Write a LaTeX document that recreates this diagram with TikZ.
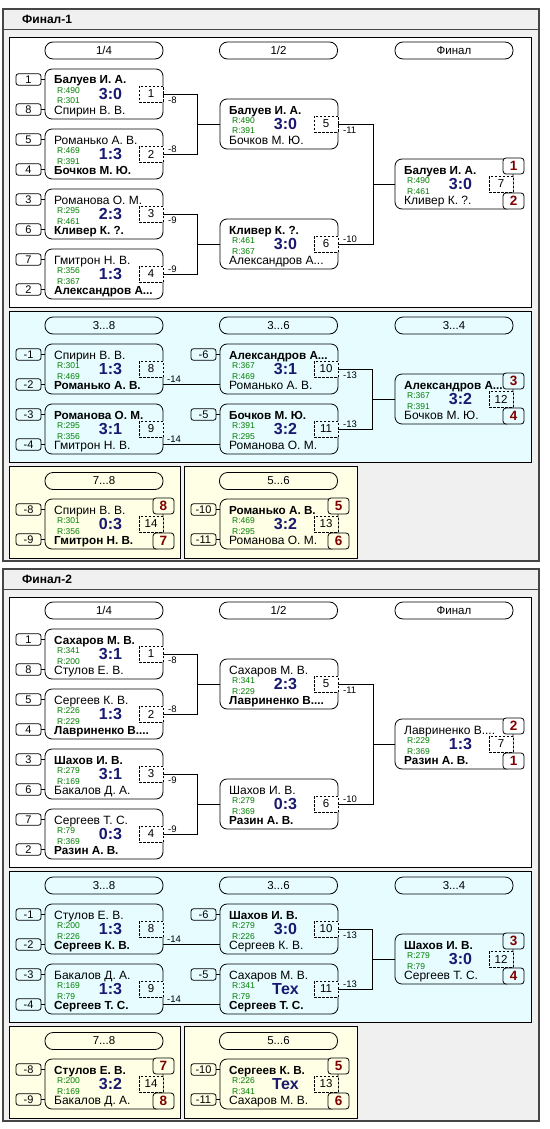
\documentclass[tikz,border=0pt]{standalone}
\usepackage{fontspec}
\setmainfont{Liberation Sans}
\usetikzlibrary{calc}
\definecolor{scorec}{RGB}{25,25,112}
\definecolor{ratec}{RGB}{0,128,0}
\definecolor{winc}{RGB}{128,0,0}
\definecolor{grayb}{RGB}{240,240,240}
\definecolor{cyanb}{RGB}{230,252,255}
\definecolor{yelb}{RGB}{255,255,230}
\definecolor{framec}{RGB}{70,70,70}
\newcommand\fnm{\fontsize{12}{14}\selectfont}
\newcommand\fbn{\fontsize{11.7}{14}\selectfont\bfseries}
\newcommand\B[1]{{\fbn #1}}
\newif\ifcov \covtrue
\def\bgc{white}
\tikzset{
 lw/.style={line width=0.8pt},
 mbox/.style={draw, lw, rounded corners=7pt, minimum width=118pt, minimum height=50pt, inner sep=0pt, outer sep=0pt, anchor=north west},
 nametxt/.style={anchor=base west, inner sep=0pt, font=\fnm},
 rtxt/.style={anchor=base west, inner sep=0pt, font=\fontsize{8.5}{10}\selectfont, text=ratec},
 scoretxt/.style={anchor=base, inner sep=0pt, font=\fontsize{16}{18}\selectfont\bfseries, text=scorec},
 numbox/.style={draw, lw, dash pattern=on 2.5pt off 1.5pt, fill=\bgc, minimum width=24pt, minimum height=16pt, inner sep=0pt, font=\fontsize{11.5}{13}\selectfont},
 seedbox/.style={draw, lw, rounded corners=2.5pt, minimum width=25pt, minimum height=11.5pt, inner sep=0pt, font=\fontsize{11}{13}\selectfont},
 pill/.style={draw, lw, rounded corners=8pt, minimum width=118pt, minimum height=17pt, inner sep=0pt, font=\fontsize{11.5}{13}\selectfont},
 winbox/.style={draw, lw, fill=\bgc, rounded corners=3pt, minimum width=21pt, minimum height=16pt, inner sep=0pt, font=\fontsize{13.5}{15}\selectfont\bfseries, text=winc},
 lbl/.style={anchor=base west, inner sep=0pt, font=\fontsize{9.5}{11}\selectfont},
 conn/.style={lw},
 panel/.style={draw, lw},
}
\newcommand\Match[9]{%
 \node[mbox] (#1) at (#2,#3) {};
 \ifcov\fill[fill=\bgc] (#2+117,#3+17.4) rectangle (#2+119,#3+32.6);\fi
 \node[nametxt] (#1nt) at (#2+9,#3+15) {#4};
 \node[rtxt] (#1ra) at (#2+12,#3+24.5) {R:#5};
 \node[rtxt] (#1rb) at (#2+12,#3+35) {R:#6};
 \node[scoretxt] (#1sc) at (#2+65.5,#3+30.5) {#7};
 \node[nametxt] (#1nb) at (#2+9,#3+45) {#8};
 \node[numbox] (#1num) at (#2+106,#3+25) {#9};
}
\newcommand\Seed[5]{\node[seedbox] (#1) at (#2,#3) {#4}; \draw[conn] (#1.east) -- (#1.east -| #5.west);}
\newcommand\Wins[3]{%
 \node[winbox] (#1wa) at ($(#1.north east)+(0.5,7)$) {#2};
 \node[winbox] (#1wb) at ($(#1.south east)+(0.5,-8)$) {#3};}
\newcommand\Lbl[4]{\node[lbl] (#1) at ($(#2.east)+(5,#3)$) {#4};}
\newcommand\Frame[3]{%
 \draw[framec, line width=1.2pt, fill=grayb] (3,#1+9) rectangle (539,#1+561);
 \draw[framec, line width=0.8pt] (3,#1+29) -- (539,#1+29);
 \node[anchor=base west, inner sep=0pt, font=\fontsize{12}{14}\selectfont\bfseries] (#3) at (22,#1+23.5) {#2};
 \draw[panel, fill=white] (9,#1+37) rectangle (531,#1+307);
 \draw[panel, fill=cyanb] (9,#1+311) rectangle (531,#1+462);
 \draw[panel, fill=yelb] (9,#1+466) rectangle (180,#1+558);
 \draw[panel, fill=yelb] (184,#1+466) rectangle (357,#1+558);
}
\begin{document}
\begin{tikzpicture}[x=1pt,y=-1pt]
\useasboundingbox (0,0) rectangle (549,1129);
% ================= Final-1
\def\Y{0}
\Frame{\Y}{Финал-1}{aT}
\def\bgc{white}
\node[pill] (aP1) at (104,\Y+50.5) {1/4};
\node[pill] (aP2) at (278.5,\Y+50.5) {1/2};
\node[pill] (aP3) at (454,\Y+50.5) {Финал};
\Match{a1}{45}{\Y+69}{\B{Балуев И. А.}}{490}{301}{3:0}{Спирин В. В.}{1}
\Match{a2}{45}{\Y+129}{Романько А. В.}{469}{391}{1:3}{\B{Бочков М. Ю.}}{2}
\Match{a3}{45}{\Y+189}{Романова О. М.}{295}{461}{2:3}{\B{Кливер К. ?.}}{3}
\Match{a4}{45}{\Y+249}{Гмитрон Н. В.}{356}{367}{1:3}{\B{Александров А...}}{4}
\Match{a5}{220}{\Y+99}{\B{Балуев И. А.}}{490}{391}{3:0}{Бочков М. Ю.}{5}
\Match{a6}{220}{\Y+219}{\B{Кливер К. ?.}}{461}{367}{3:0}{Александров А...}{6}
\covfalse
\Match{a7}{395}{\Y+159}{\B{Балуев И. А.}}{490}{461}{3:0}{Кливер К. ?.}{7}
\Wins{a7}{1}{2}
\covtrue
\Seed{a1s1}{28.5}{\Y+79.5}{1}{a1}\Seed{a1s2}{28.5}{\Y+109.5}{8}{a1}
\Seed{a2s1}{28.5}{\Y+139.5}{5}{a2}\Seed{a2s2}{28.5}{\Y+169.5}{4}{a2}
\Seed{a3s1}{28.5}{\Y+199.5}{3}{a3}\Seed{a3s2}{28.5}{\Y+229.5}{6}{a3}
\Seed{a4s1}{28.5}{\Y+259.5}{7}{a4}\Seed{a4s2}{28.5}{\Y+289.5}{2}{a4}
\draw[conn] (a1.east) -- ++(34,0) |- (a5.west);
\draw[conn] (a2.east) -- ++(34,0) |- (a5.west);
\draw[conn] (a3.east) -- ++(34,0) |- (a6.west);
\draw[conn] (a4.east) -- ++(34,0) |- (a6.west);
\draw[conn] (a5.east) -- ++(35,0) |- (a7.west);
\draw[conn] (a6.east) -- ++(35,0) |- (a7.west);
\Lbl{a1l}{a1}{9.5}{-8}\Lbl{a2l}{a2}{-2}{-8}\Lbl{a3l}{a3}{9.5}{-9}\Lbl{a4l}{a4}{-2}{-9}
\Lbl{a5l}{a5}{9.5}{-11}\Lbl{a6l}{a6}{-2}{-10}
% 3..8
\def\bgc{cyanb}
\node[pill] (aP4) at (104,\Y+325.5) {3...8};
\node[pill] (aP5) at (278.5,\Y+325.5) {3...6};
\node[pill] (aP6) at (454,\Y+325.5) {3...4};
\Match{a8}{45}{\Y+344}{Спирин В. В.}{301}{469}{1:3}{\B{Романько А. В.}}{8}
\Match{a9}{45}{\Y+404}{\B{Романова О. М.}}{295}{356}{3:1}{Гмитрон Н. В.}{9}
\Match{a10}{220}{\Y+344}{\B{Александров А...}}{367}{469}{3:1}{Романько А. В.}{10}
\Match{a11}{220}{\Y+404}{\B{Бочков М. Ю.}}{391}{295}{3:2}{Романова О. М.}{11}
\covfalse
\Match{a12}{395}{\Y+374}{\B{Александров А...}}{367}{391}{3:2}{Бочков М. Ю.}{12}
\Wins{a12}{3}{4}
\covtrue
\Seed{a8s1}{28.5}{\Y+354.5}{-1}{a8}\Seed{a8s2}{28.5}{\Y+384.5}{-2}{a8}
\Seed{a9s1}{28.5}{\Y+414.5}{-3}{a9}\Seed{a9s2}{28.5}{\Y+444.5}{-4}{a9}
\Seed{a10s1}{203.5}{\Y+354.5}{-6}{a10}
\Seed{a11s1}{203.5}{\Y+414.5}{-5}{a11}
\draw[conn] ($(a8.north east)+(0,40)$) -- ($(a10.north west)+(0,40)$);
\draw[conn] ($(a9.north east)+(0,40)$) -- ($(a11.north west)+(0,40)$);
\node[lbl] (a8l) at ($(a8.north east)+(4,38)$) {-14};
\node[lbl] (a9l) at ($(a9.north east)+(4,38)$) {-14};
\draw[conn] (a10.east) -- ++(34,0) |- (a12.west);
\draw[conn] (a11.east) -- ++(34,0) |- (a12.west);
\Lbl{a10l}{a10}{9.5}{-13}\Lbl{a11l}{a11}{-2}{-13}
% 7..8 / 5..6
\def\bgc{yelb}
\node[pill] (aP7) at (104,\Y+481) {7...8};
\node[pill] (aP8) at (278.5,\Y+481) {5...6};
\covfalse
\Match{a14}{45}{\Y+499}{Спирин В. В.}{301}{356}{0:3}{\B{Гмитрон Н. В.}}{14}
\Wins{a14}{8}{7}
\Match{a13}{220}{\Y+499}{\B{Романько А. В.}}{469}{295}{3:2}{Романова О. М.}{13}
\Wins{a13}{5}{6}
\covtrue
\Seed{a14s1}{28.5}{\Y+509.5}{-8}{a14}\Seed{a14s2}{28.5}{\Y+539.5}{-9}{a14}
\Seed{a13s1}{203.5}{\Y+509.5}{-10}{a13}\Seed{a13s2}{203.5}{\Y+539.5}{-11}{a13}
% ================= Final-2
\def\Y{560}
\Frame{\Y}{Финал-2}{bT}
\def\bgc{white}
\node[pill] (bP1) at (104,\Y+50.5) {1/4};
\node[pill] (bP2) at (278.5,\Y+50.5) {1/2};
\node[pill] (bP3) at (454,\Y+50.5) {Финал};
\Match{b1}{45}{\Y+69}{\B{Сахаров М. В.}}{341}{200}{3:1}{Стулов Е. В.}{1}
\Match{b2}{45}{\Y+129}{Сергеев К. В.}{226}{229}{1:3}{\B{Лавриненко В....}}{2}
\Match{b3}{45}{\Y+189}{\B{Шахов И. В.}}{279}{169}{3:1}{Бакалов Д. А.}{3}
\Match{b4}{45}{\Y+249}{Сергеев Т. С.}{79}{369}{0:3}{\B{Разин А. В.}}{4}
\Match{b5}{220}{\Y+99}{Сахаров М. В.}{341}{229}{2:3}{\B{Лавриненко В....}}{5}
\Match{b6}{220}{\Y+219}{Шахов И. В.}{279}{369}{0:3}{\B{Разин А. В.}}{6}
\covfalse
\Match{b7}{395}{\Y+159}{Лавриненко В....}{229}{369}{1:3}{\B{Разин А. В.}}{7}
\Wins{b7}{2}{1}
\covtrue
\Seed{b1s1}{28.5}{\Y+79.5}{1}{b1}\Seed{b1s2}{28.5}{\Y+109.5}{8}{b1}
\Seed{b2s1}{28.5}{\Y+139.5}{5}{b2}\Seed{b2s2}{28.5}{\Y+169.5}{4}{b2}
\Seed{b3s1}{28.5}{\Y+199.5}{3}{b3}\Seed{b3s2}{28.5}{\Y+229.5}{6}{b3}
\Seed{b4s1}{28.5}{\Y+259.5}{7}{b4}\Seed{b4s2}{28.5}{\Y+289.5}{2}{b4}
\draw[conn] (b1.east) -- ++(34,0) |- (b5.west);
\draw[conn] (b2.east) -- ++(34,0) |- (b5.west);
\draw[conn] (b3.east) -- ++(34,0) |- (b6.west);
\draw[conn] (b4.east) -- ++(34,0) |- (b6.west);
\draw[conn] (b5.east) -- ++(35,0) |- (b7.west);
\draw[conn] (b6.east) -- ++(35,0) |- (b7.west);
\Lbl{b1l}{b1}{9.5}{-8}\Lbl{b2l}{b2}{-2}{-8}\Lbl{b3l}{b3}{9.5}{-9}\Lbl{b4l}{b4}{-2}{-9}
\Lbl{b5l}{b5}{9.5}{-11}\Lbl{b6l}{b6}{-2}{-10}
\def\bgc{cyanb}
\node[pill] (bP4) at (104,\Y+325.5) {3...8};
\node[pill] (bP5) at (278.5,\Y+325.5) {3...6};
\node[pill] (bP6) at (454,\Y+325.5) {3...4};
\Match{b8}{45}{\Y+344}{Стулов Е. В.}{200}{226}{1:3}{\B{Сергеев К. В.}}{8}
\Match{b9}{45}{\Y+404}{Бакалов Д. А.}{169}{79}{1:3}{\B{Сергеев Т. С.}}{9}
\Match{b10}{220}{\Y+344}{\B{Шахов И. В.}}{279}{226}{3:0}{Сергеев К. В.}{10}
\Match{b11}{220}{\Y+404}{Сахаров М. В.}{341}{79}{Тех}{\B{Сергеев Т. С.}}{11}
\covfalse
\Match{b12}{395}{\Y+374}{\B{Шахов И. В.}}{279}{79}{3:0}{Сергеев Т. С.}{12}
\Wins{b12}{3}{4}
\covtrue
\Seed{b8s1}{28.5}{\Y+354.5}{-1}{b8}\Seed{b8s2}{28.5}{\Y+384.5}{-2}{b8}
\Seed{b9s1}{28.5}{\Y+414.5}{-3}{b9}\Seed{b9s2}{28.5}{\Y+444.5}{-4}{b9}
\Seed{b10s1}{203.5}{\Y+354.5}{-6}{b10}
\Seed{b11s1}{203.5}{\Y+414.5}{-5}{b11}
\draw[conn] ($(b8.north east)+(0,40)$) -- ($(b10.north west)+(0,40)$);
\draw[conn] ($(b9.north east)+(0,40)$) -- ($(b11.north west)+(0,40)$);
\node[lbl] (b8l) at ($(b8.north east)+(4,38)$) {-14};
\node[lbl] (b9l) at ($(b9.north east)+(4,38)$) {-14};
\draw[conn] (b10.east) -- ++(34,0) |- (b12.west);
\draw[conn] (b11.east) -- ++(34,0) |- (b12.west);
\Lbl{b10l}{b10}{9.5}{-13}\Lbl{b11l}{b11}{-2}{-13}
\def\bgc{yelb}
\node[pill] (bP7) at (104,\Y+481) {7...8};
\node[pill] (bP8) at (278.5,\Y+481) {5...6};
\covfalse
\Match{b14}{45}{\Y+499}{\B{Стулов Е. В.}}{200}{169}{3:2}{Бакалов Д. А.}{14}
\Wins{b14}{7}{8}
\Match{b13}{220}{\Y+499}{\B{Сергеев К. В.}}{226}{341}{Тех}{Сахаров М. В.}{13}
\Wins{b13}{5}{6}
\covtrue
\Seed{b14s1}{28.5}{\Y+509.5}{-8}{b14}\Seed{b14s2}{28.5}{\Y+539.5}{-9}{b14}
\Seed{b13s1}{203.5}{\Y+509.5}{-10}{b13}\Seed{b13s2}{203.5}{\Y+539.5}{-11}{b13}
\end{tikzpicture}
\end{document}
